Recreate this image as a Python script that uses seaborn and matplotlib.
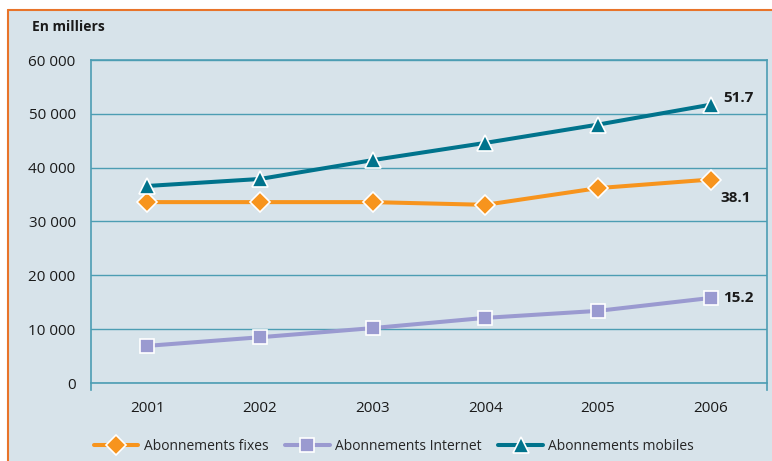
import numpy as np
import matplotlib.pyplot as plt
import pandas as pd
import seaborn as sns
from matplotlib.patches import Rectangle
from matplotlib.lines import Line2D

# values in thousands
years = [2001, 2002, 2003, 2004, 2005, 2006]
fixes = [33600, 33600, 33600, 33100, 36200, 37800]
internet = [6900, 8500, 10200, 12100, 13400, 15800]
mobiles = [36600, 37900, 41400, 44600, 48000, 51700]
end_labels = ['38.1', '15.2', '51.7']
series_names = ['Abonnements fixes', 'Abonnements Internet', 'Abonnements mobiles']
yticks = [0, 10000, 20000, 30000, 40000, 50000, 60000]

bg = '#d7e3ea'
grid_col = '#4c9db3'
colors = ['#f7941d', '#9a9ad0', '#00738c']
markers = ['D', 's', '^']
msizes = [10, 10, 11]

sns.set_style('white')
plt.rcParams['font.family'] = ['Open Sans', 'DejaVu Sans']

fig = plt.figure(figsize=(7.72, 4.61), dpi=100)
fig.patch.set_facecolor('white')
# panel background and orange frame
fig.patches.append(Rectangle((8 / 772, 0), 1, 451 / 461, transform=fig.transFigure,
                             facecolor=bg, edgecolor='none', zorder=-2))
fig.add_artist(Line2D([8 / 772, 8 / 772], [0, 451 / 461], color='#e8742a', lw=1.5,
                      transform=fig.transFigure))
fig.add_artist(Line2D([8 / 772, 1], [451 / 461, 451 / 461], color='#e8742a', lw=1.5,
                      transform=fig.transFigure))

ax = fig.add_axes([91 / 772, 1 - 383 / 461, 676 / 772, 323 / 461])
ax.set_facecolor(bg)

df = pd.DataFrame({'year': years, 'fixes': fixes, 'internet': internet, 'mobiles': mobiles})
for col, name, c, m, ms in zip(['fixes', 'internet', 'mobiles'], series_names, colors, markers, msizes):
    sns.lineplot(data=df, x='year', y=col, ax=ax, color=c, lw=2.9, marker=m,
                 markersize=ms, markeredgecolor='white', markeredgewidth=1.2,
                 label=name, zorder=3)

ax.set_xlim(2000.5, 2006.5)
ax.set_ylim(0, 60000)
ax.set_yticks(yticks)
ax.set_yticklabels([f'{v:,}'.replace(',', ' ') for v in yticks])
ax.set_xticks(years)
ax.set_xticks(np.arange(2000.5, 2007, 1), minor=True)
ax.tick_params(axis='x', which='major', length=0, pad=13, labelsize=11, colors='#1a1a1a')
ax.tick_params(axis='x', which='minor', length=7, width=1.2, color=grid_col, direction='out')
ax.tick_params(axis='y', length=0, pad=11, labelsize=11, colors='#1a1a1a')
ax.set_xlabel('')
ax.set_ylabel('')
for y in yticks:
    ax.axhline(y, color=grid_col, lw=1, zorder=1)
for s in ['left', 'right', 'bottom', 'top']:
    ax.spines[s].set_color(grid_col)
    ax.spines[s].set_linewidth(1.2)
ax.spines['left'].set_bounds(-1300, 60000)
ax.spines['right'].set_bounds(-1300, 60000)

# end labels
ax.annotate(end_labels[2], (years[-1], mobiles[-1]), xytext=(9, 5), textcoords='offset points',
            fontsize=11, fontweight='bold', color='#1a1a1a', va='center')
ax.annotate(end_labels[0], (years[-1], fixes[-1]), xytext=(7, -13), textcoords='offset points',
            fontsize=11, fontweight='bold', color='#1a1a1a', va='center')
ax.annotate(end_labels[1], (years[-1], internet[-1]), xytext=(9, 0), textcoords='offset points',
            fontsize=11, fontweight='bold', color='#1a1a1a', va='center')

fig.text(32 / 772, 1 - 27 / 461, 'En milliers', fontsize=10, fontweight='bold',
         color='#1a1a1a', va='center')

handles, labels = ax.get_legend_handles_labels()
ax.legend(handles, labels, loc='center', bbox_to_anchor=(394 / 772, 1 - 446 / 461),
          bbox_transform=fig.transFigure, ncol=3, frameon=False, fontsize=10,
          handlelength=3.2, columnspacing=1.2, handletextpad=0.4)

fig.savefig('out.png', dpi=100, facecolor=fig.get_facecolor())
